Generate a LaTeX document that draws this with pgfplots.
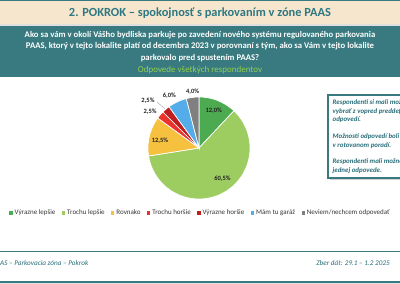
\documentclass[border=0pt]{standalone}
\usepackage{pgfplots}
\pgfplotsset{compat=1.18}
\usepackage{fontspec}
\setmainfont{Carlito}
\definecolor{tealband}{RGB}{56,122,127}
\definecolor{titlec}{RGB}{45,120,130}
\definecolor{beige}{RGB}{246,230,206}
\definecolor{subgreen}{RGB}{146,208,80}
\definecolor{boxtext}{RGB}{40,110,122}
\definecolor{c1}{RGB}{76,170,80}
\definecolor{c2}{RGB}{157,204,96}
\definecolor{c3}{RGB}{247,193,64}
\definecolor{c4}{RGB}{234,51,45}
\definecolor{c5}{RGB}{190,30,30}
\definecolor{c6}{RGB}{84,172,232}
\definecolor{c7}{RGB}{128,128,128}
\definecolor{legtext}{RGB}{55,55,55}
\definecolor{labtext}{RGB}{35,35,35}
\begin{document}
\begin{tikzpicture}[x=1pt,y=1pt]
\clip (0,0) rectangle (400,284);
\fill[white] (0,0) rectangle (400,284);
% header
\fill[beige] (0,260) rectangle (400,283);
\fill[tealband] (0,282.6) rectangle (400,284);
\fill[gray!25] (0,258) rectangle (400,259.5);
\fill[tealband] (0,207) rectangle (400,258);
\node[anchor=base, inner sep=0pt, font=\fontsize{12.4}{14}\selectfont\bfseries, text=titlec] at (200,267) {2. POKROK – spokojnosť s parkovaním v zóne PAAS};
\node[anchor=base, inner sep=0pt, font=\fontsize{8.7}{10}\selectfont\bfseries, text=white] at (200,246.5) {Ako sa vám v okolí Vášho bydliska parkuje po zavedení nového systému regulovaného parkovania};
\node[anchor=base, inner sep=0pt, font=\fontsize{8.7}{10}\selectfont\bfseries, text=white] at (200,235) {PAAS, ktorý v tejto lokalite platí od decembra 2023 v porovnaní s tým, ako sa Vám v tejto lokalite};
\node[anchor=base, inner sep=0pt, font=\fontsize{8.7}{10}\selectfont\bfseries, text=white] at (200,223) {parkovalo pred spustením PAAS?};
\node[anchor=base, inner sep=0pt, font=\fontsize{9}{10}\selectfont, text=subgreen] at (200,211.5) {Odpovede všetkých respondentov};
% text box
\fill[gray!35] (330,104) rectangle (412,187);
\draw[tealband, line width=1.3pt, fill=white] (328,106) rectangle (410,189);
\begin{scope}[every node/.style={anchor=base west, inner sep=0pt, font=\fontsize{6.9}{8}\selectfont\bfseries\itshape, text=boxtext}]
\node at (332.5,179) {Respondenti si mali možnosť};
\node at (332.5,170.5) {vybrať z vopred preddefinovaných};
\node at (332.5,162) {odpovedí.};
\node at (332.5,145) {Možnosti odpovedí boli};
\node at (332.5,136.5) {v rotovanom poradí.};
\node at (332.5,120) {Respondenti mali možnosť výberu};
\node at (332.5,111.5) {jednej odpovede.};
\end{scope}
% footer
\fill[tealband] (0,31.6) rectangle (400,32.6);
\fill[tealband] (0,1.3) rectangle (400,3.3);
\fill[gray!25] (0,0) rectangle (400,1.3);
\node[anchor=base west, inner sep=0pt, font=\fontsize{7.2}{8}\selectfont\itshape, text=boxtext] at (-7.5,18) {PAAS – Parkovacia zóna – Pokrok};
\node[anchor=base east, inner sep=0pt, font=\fontsize{7.2}{8}\selectfont\itshape, text=boxtext] at (390,18) {Zber dát: 29.1 – 1.2 2025};
% pie
\begin{axis}[at={(199pt,136pt)}, anchor=center, x=51pt, y=51pt,
  xmin=-1, xmax=1, ymin=-1, ymax=1, hide axis, clip=false,
  legend style={draw=none, fill=none, at={(0.515,-0.137)}, anchor=center,
    legend columns=-1, font=\fontsize{7}{8}\selectfont, text=legtext,
    /tikz/every even column/.append style={column sep=4.6pt}},
  legend image code/.code={\fill[#1,draw=none] (0pt,-1.6pt) rectangle (3.2pt,1.6pt);},
  every axis plot/.append style={draw=white, line width=0.7pt, samples=40, variable=\t}]
% Výrazne lepšie 12.0
\addplot[fill=c1, domain=46.8:90] ({cos(\t)},{sin(\t)}) -- (axis cs:0,0) -- cycle;
\addlegendentry{Výrazne lepšie}
% Trochu lepšie 60.5
\addplot[fill=c2, domain=-171:46.8, samples=120] ({cos(\t)},{sin(\t)}) -- (axis cs:0,0) -- cycle;
\addlegendentry{Trochu lepšie}
% Rovnako 12.5
\addplot[fill=c3, domain=-216:-171] ({cos(\t)},{sin(\t)}) -- (axis cs:0,0) -- cycle;
\addlegendentry{Rovnako}
% Trochu horšie 2.5
\addplot[fill=c4, domain=-225:-216, samples=12] ({cos(\t)},{sin(\t)}) -- (axis cs:0,0) -- cycle;
\addlegendentry{Trochu horšie}
% Výrazne horšie 2.5
\addplot[fill=c5, domain=-234:-225, samples=12] ({cos(\t)},{sin(\t)}) -- (axis cs:0,0) -- cycle;
\addlegendentry{Výrazne horšie}
% Mám tu garáž 6.0
\addplot[fill=c6, domain=-255.6:-234, samples=20] ({cos(\t)},{sin(\t)}) -- (axis cs:0,0) -- cycle;
\addlegendentry{Mám tu garáž}
% Neviem 4.0
\addplot[fill=c7, domain=-270:-255.6, samples=16] ({cos(\t)},{sin(\t)}) -- (axis cs:0,0) -- cycle;
\addlegendentry{Neviem/nechcem odpovedať}
\begin{scope}[every node/.style={font=\fontsize{6.5}{7}\selectfont\bfseries, text=labtext, inner sep=0pt}]
\node at (axis cs:0.29,0.74) {12,0\%};
\node at (axis cs:0.46,-0.6) {60,5\%};
\node at (axis cs:-0.765,0.137) {12,5\%};
\node at (axis cs:-0.96,0.705) {2,5\%};
\node at (axis cs:-1.0,0.93) {2,5\%};
\node at (axis cs:-0.58,1.03) {6,0\%};
\node at (axis cs:-0.125,1.11) {4,0\%};
\end{scope}
\draw[gray!70, line width=0.4pt] (axis cs:-0.82,0.9) -- (axis cs:-0.67,0.77);
\end{axis}
\end{tikzpicture}
\end{document}
